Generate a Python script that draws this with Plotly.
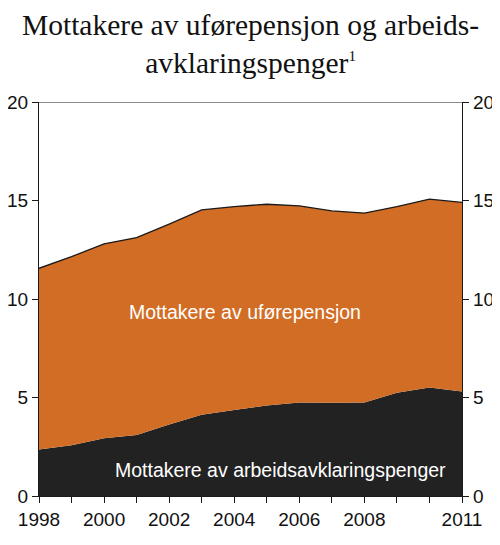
import plotly.graph_objects as go

# Data (prosent)
years = list(range(1998, 2012))
arbeidsavklaring = [2.36, 2.58, 2.93, 3.10, 3.63, 4.12, 4.36, 4.59, 4.75, 4.73, 4.75, 5.24, 5.51, 5.31]
uforepensjon = [9.20, 9.57, 9.87, 10.02, 10.17, 10.40, 10.33, 10.22, 9.98, 9.74, 9.61, 9.45, 9.56, 9.59]

x_label_years = [1998, 2000, 2002, 2004, 2006, 2008, 2011]
y_ticks = [0, 5, 10, 15, 20]

ORANGE = "#D26D26"
BLACK = "#222222"
AXIS = "#1a1a1a"

fig = go.Figure()

fig.add_trace(
    go.Scatter(
        x=years,
        y=arbeidsavklaring,
        mode="lines",
        stackgroup="one",
        name="Mottakere av arbeidsavklaringspenger",
        line=dict(width=0, color=BLACK),
        fillcolor=BLACK,
    )
)
fig.add_trace(
    go.Scatter(
        x=years,
        y=uforepensjon,
        mode="lines",
        stackgroup="one",
        name="Mottakere av uførepensjon",
        line=dict(width=1.3, color=AXIS),
        fillcolor=ORANGE,
    )
)

# invisible trace so the right axis is drawn
fig.add_trace(
    go.Scatter(x=[years[0]], y=[0], yaxis="y2", mode="markers",
               marker=dict(opacity=0), showlegend=False, hoverinfo="skip")
)

tick_font = dict(family="Liberation Sans, Arial", size=19, color="#111111")
y_common = dict(
    range=[0, 20],
    tickvals=y_ticks,
    ticks="outside",
    ticklen=6,
    tickcolor=AXIS,
    showline=True,
    linecolor=AXIS,
    linewidth=1.2,
    showgrid=False,
    zeroline=False,
    automargin=False,
    tickfont=tick_font,
)

# the page body adds an 8px offset, so the figure is sized to fit inside it
fig.update_layout(
    width=484,
    height=529,
    margin=dict(l=31, r=30, t=94, b=41),
    paper_bgcolor="white",
    plot_bgcolor="white",
    showlegend=False,
    xaxis=dict(
        range=[years[0], years[-1]],
        tickvals=x_label_years,
        ticks="outside",
        ticklen=6,
        tickcolor=AXIS,
        minor=dict(tickvals=years, ticks="outside", ticklen=6, tickcolor=AXIS, showgrid=False),
        showline=True,
        linecolor=AXIS,
        linewidth=1.2,
        showgrid=False,
        zeroline=False,
        automargin=False,
        tickfont=tick_font,
    ),
    yaxis=y_common,
    yaxis2=dict(y_common, overlaying="y", side="right"),
)

# title as annotation for exact placement
fig.add_annotation(
    xref="paper", yref="paper", x=0.5, y=1.24, xanchor="center", yanchor="top",
    text="Mottakere av uførepensjon og arbeids-<br>avklaringspenger"
         "<sup><span style='font-size:15px'>1</span></sup>",
    showarrow=False,
    font=dict(family="Liberation Serif, Times New Roman", size=29.5, color="#111111"),
)

# top border line at 20
fig.add_shape(type="line", xref="paper", yref="y", x0=0, x1=1, y0=20, y1=20,
              line=dict(color=AXIS, width=1.2))

label_font = dict(family="Liberation Sans, Arial", size=19.5, color="white")
fig.add_annotation(x=2004.34, y=9.35, text="Mottakere av uførepensjon",
                   showarrow=False, font=label_font)
fig.add_annotation(x=2005.43, y=1.31, text="Mottakere av arbeidsavklaringspenger",
                   showarrow=False, font=label_font)

fig.write_html("out.html")
